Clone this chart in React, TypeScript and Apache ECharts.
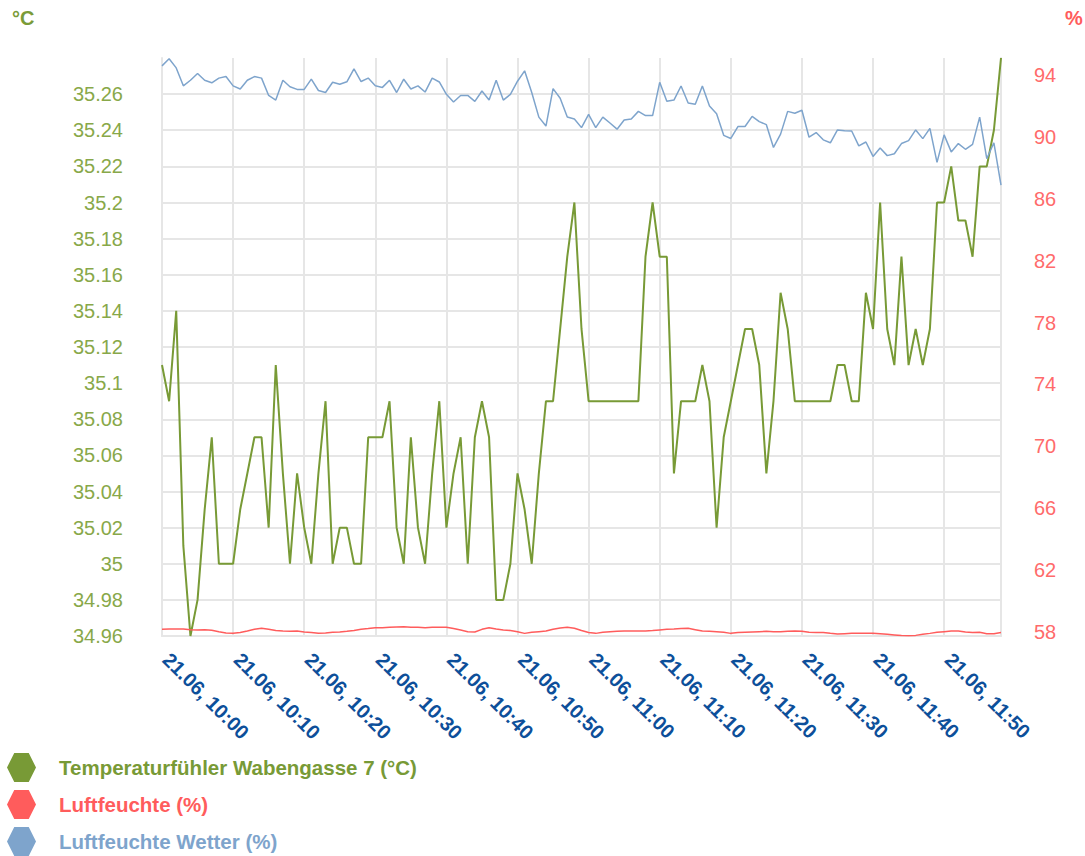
import React, { useEffect, useRef } from "react";
import * as echarts from "echarts";

const DAY = "21.06";
const START_HOUR = 10;
const POINT_COUNT = 119; // one reading per minute, 10:00 .. 11:58

const temperature = [
  35.11, 35.09, 35.14, 35.01, 34.96, 34.98, 35.03, 35.07, 35.0, 35.0,
  35.0, 35.03, 35.05, 35.07, 35.07, 35.02, 35.11, 35.05, 35.0, 35.05,
  35.02, 35.0, 35.05, 35.09, 35.0, 35.02, 35.02, 35.0, 35.0, 35.07,
  35.07, 35.07, 35.09, 35.02, 35.0, 35.07, 35.02, 35.0, 35.05, 35.09,
  35.02, 35.05, 35.07, 35.0, 35.07, 35.09, 35.07, 34.98, 34.98, 35.0,
  35.05, 35.03, 35.0, 35.05, 35.09, 35.09, 35.13, 35.17, 35.2, 35.13,
  35.09, 35.09, 35.09, 35.09, 35.09, 35.09, 35.09, 35.09, 35.17, 35.2,
  35.17, 35.17, 35.05, 35.09, 35.09, 35.09, 35.11, 35.09, 35.02, 35.07,
  35.09, 35.11, 35.13, 35.13, 35.11, 35.05, 35.09, 35.15, 35.13, 35.09,
  35.09, 35.09, 35.09, 35.09, 35.09, 35.11, 35.11, 35.09, 35.09, 35.15,
  35.13, 35.2, 35.13, 35.11, 35.17, 35.11, 35.13, 35.11, 35.13, 35.2,
  35.2, 35.22, 35.19, 35.19, 35.17, 35.22, 35.22, 35.24, 35.28,
];

const humidity = [
  58.17, 58.19, 58.19, 58.19, 58.15, 58.13, 58.15, 58.11, 58.02, 57.94,
  57.91, 57.96, 58.06, 58.17, 58.24, 58.17, 58.09, 58.06, 58.04, 58.06,
  58.0, 57.96, 57.91, 57.94, 57.98, 58.0, 58.04, 58.09, 58.17, 58.22,
  58.28, 58.28, 58.3, 58.32, 58.34, 58.3, 58.3, 58.28, 58.3, 58.3,
  58.3, 58.22, 58.13, 58.02, 58.0, 58.17, 58.28, 58.19, 58.13, 58.09,
  58.02, 57.91, 57.98, 58.02, 58.06, 58.17, 58.26, 58.3, 58.24, 58.09,
  57.96, 57.91, 57.98, 58.02, 58.04, 58.06, 58.06, 58.06, 58.06, 58.09,
  58.13, 58.17, 58.19, 58.22, 58.24, 58.15, 58.06, 58.04, 58.02, 57.98,
  57.91, 57.96, 57.98, 58.0, 58.02, 58.04, 58.02, 58.02, 58.04, 58.06,
  58.04, 57.98, 57.96, 57.96, 57.91, 57.87, 57.89, 57.91, 57.91, 57.91,
  57.91, 57.89, 57.85, 57.81, 57.77, 57.75, 57.78, 57.85, 57.91, 57.98,
  58.02, 58.06, 58.06, 58.0, 57.96, 57.98, 57.89, 57.89, 57.96,
];

const humidityWeather = [
  94.59, 95.05, 94.46, 93.3, 93.66, 94.1, 93.66, 93.5, 93.8, 93.9,
  93.3, 93.1, 93.66, 93.9, 93.8, 92.68, 92.38, 93.66, 93.24, 93.07,
  93.07, 93.73, 93.0, 92.87, 93.53, 93.4, 93.56, 94.4, 93.58, 93.8,
  93.3, 93.2, 93.66, 92.87, 93.73, 93.1, 93.3, 92.9, 93.8, 93.55,
  92.75, 92.26, 92.68, 92.68, 92.3, 92.97, 92.38, 93.66, 92.38, 92.75,
  93.6, 94.27, 92.87, 91.28, 90.7, 93.12, 92.5, 91.28, 91.16, 90.6,
  91.45, 90.6, 91.28, 90.9, 90.5, 91.09, 91.16, 91.65, 91.38, 91.38,
  93.53, 92.3, 92.38, 93.29, 92.19, 92.11, 93.29, 92.0, 91.5, 90.1,
  89.9, 90.67, 90.67, 91.33, 90.99, 90.79, 89.32, 90.18, 91.65, 91.53,
  91.72, 89.98, 90.28, 89.81, 89.62, 90.45, 90.4, 90.38, 89.42, 89.67,
  88.74, 89.28, 88.79, 88.91, 89.57, 89.76, 90.45, 89.89, 90.55, 88.35,
  90.13, 89.03, 89.57, 89.2, 89.52, 91.28, 88.59, 89.62, 86.88,
];

const rightTickLabels = [58, 62, 66, 70, 74, 78, 82, 86, 90, 94];

const SERIES_NAMES = [
  "Temperaturfühler Wabengasse 7 (°C)",
  "Luftfeuchte (%)",
  "Luftfeuchte Wetter (%)",
];
const COLORS = ["#789a36", "#ff5c5c", "#7ea4cc"];

const pad = (n: number) => (n < 10 ? "0" + n : String(n));
const categories: string[] = [];
for (let i = 0; i < POINT_COUNT; i++) {
  const h = START_HOUR + Math.floor(i / 60);
  const m = i % 60;
  categories.push(`${DAY}, ${pad(h)}:${pad(m)}`);
}

const FONT = "'Liberation Sans', Arial, Helvetica, sans-serif";
const GRID_COLOR = "#e6e6e6";
const HEX = "path://M0,50 L25,0 L75,0 L100,50 L75,100 L25,100 Z";

export default function App() {
  const ref = useRef<HTMLDivElement>(null);
  useEffect(() => {
    if (!ref.current) return;
    const chart = echarts.init(ref.current, undefined, { renderer: "svg" });
    const splitColors: string[] = [];
    for (let i = 0; i < 16; i++) splitColors.push(GRID_COLOR);
    splitColors.push("rgba(0,0,0,0)");
    chart.setOption({
      animation: false,
      backgroundColor: "#ffffff",
      textStyle: { fontFamily: FONT },
      grid: { left: 162, right: 84, top: 58, bottom: 220, containLabel: false },
      graphic: [
        {
          type: "text",
          left: 12,
          top: 8,
          style: { text: "°C", fill: "#7a9b38", font: `bold 20px ${FONT}` },
        },
        {
          type: "text",
          left: 1065,
          top: 8,
          style: { text: "%", fill: "#ff5c5c", font: `bold 20px ${FONT}` },
        },
      ],
      legend: {
        orient: "vertical",
        left: 7,
        top: 753,
        height: 120,
        padding: 0,
        itemWidth: 35,
        itemHeight: 29,
        itemGap: 8,
        icon: HEX,
        textStyle: { fontSize: 20.5, fontWeight: "bold", fontFamily: FONT, padding: [0, 0, 0, 15] },
        data: SERIES_NAMES.map((n, i) => ({ name: n, textStyle: { color: COLORS[i] } })),
      },
      xAxis: {
        type: "category",
        boundaryGap: false,
        data: categories,
        axisLine: { show: true, lineStyle: { color: GRID_COLOR, width: 2 } },
        axisTick: { show: false },
        axisLabel: {
          interval: 9,
          rotate: -45,
          margin: 16,
          padding: [0, 0, 0, 6],
          color: "#0d4f9a",
          fontSize: 20,
          fontWeight: "bold",
          fontFamily: FONT,
        },
        splitLine: { show: true, interval: 9, lineStyle: { color: GRID_COLOR, width: 2 } },
      },
      yAxis: [
        {
          type: "value",
          min: 34.96,
          max: 35.28,
          interval: 0.02,
          axisLine: { show: true, lineStyle: { color: GRID_COLOR, width: 2 } },
          axisTick: { show: false },
          axisLabel: {
            showMaxLabel: false,
            margin: 39,
            color: "#88a849",
            fontSize: 20,
            fontFamily: FONT,
            formatter: (v: number) => String(parseFloat(v.toFixed(2))),
          },
          splitLine: { show: true, lineStyle: { color: splitColors, width: 2 } },
        },
        {
          type: "value",
          position: "right",
          min: 57.74,
          max: 95.1,
          axisLine: { show: true, lineStyle: { color: GRID_COLOR, width: 2 } },
          axisTick: { show: false },
          splitLine: { show: false },
          axisLabel: {
            customValues: rightTickLabels,
            margin: 33,
            color: "#ff6b6b",
            fontSize: 20,
            fontFamily: FONT,
            formatter: (v: number) => String(Math.round(v)),
          },
        },
      ],
      series: [
        {
          name: SERIES_NAMES[0],
          type: "line",
          yAxisIndex: 0,
          data: temperature,
          showSymbol: false,
          symbol: "none",
          lineStyle: { color: COLORS[0], width: 2 },
          itemStyle: { color: COLORS[0] },
        },
        {
          name: SERIES_NAMES[1],
          type: "line",
          yAxisIndex: 1,
          data: humidity,
          showSymbol: false,
          symbol: "none",
          lineStyle: { color: COLORS[1], width: 1.5 },
          itemStyle: { color: COLORS[1] },
        },
        {
          name: SERIES_NAMES[2],
          type: "line",
          yAxisIndex: 1,
          data: humidityWeather,
          showSymbol: false,
          symbol: "none",
          lineStyle: { color: COLORS[2], width: 1.5 },
          itemStyle: { color: COLORS[2] },
        },
      ],
    });
    return () => chart.dispose();
  }, []);
  return (
    <div
      ref={ref}
      style={{ position: "fixed", left: 0, top: 0, width: 1085, height: 856, background: "#fff" }}
    />
  );
}
